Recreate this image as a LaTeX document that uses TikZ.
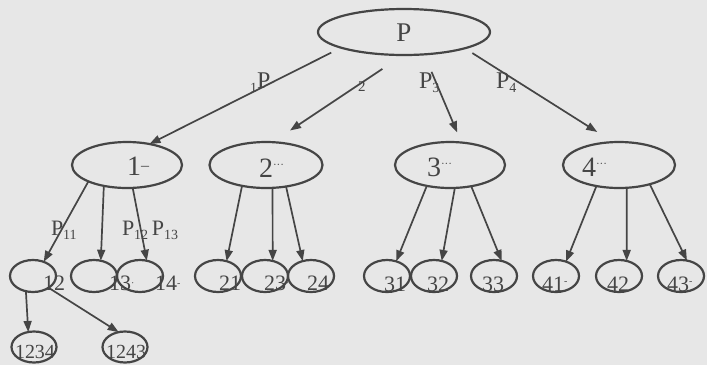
\documentclass[tikz,border=0pt]{standalone}
\usepackage{fontspec}
\setmainfont{Liberation Serif}
\usetikzlibrary{shapes.geometric,arrows.meta}
\definecolor{paper}{gray}{0.905}
\definecolor{ink}{gray}{0.27}
\newcommand{\sz}[1]{\fontsize{#1}{#1}\selectfont}
\newcommand{\sub}[1]{\raisebox{-4pt}{\sz{14}#1}}
\begin{document}
\begin{tikzpicture}[x=1pt,y=-1pt,
  oval/.style={ellipse,draw=ink,line width=2.2pt,inner sep=0pt,outer sep=0pt},
  big/.style={oval,minimum width=110pt,minimum height=46pt},
  small/.style={oval,minimum width=46pt,minimum height=32pt},
  leaf/.style={oval,minimum width=45pt,minimum height=31pt},
  lbl/.style={text=ink,inner sep=0pt,outer sep=0pt,anchor=base west},
  arr/.style={draw=ink,line width=1.7pt,-{Triangle[length=11pt,width=8pt]}}]
  % paper
  \fill[paper] (0,0) rectangle (707,365);
  \useasboundingbox (0,0) rectangle (707,365);

  % root
  \node[oval,minimum width=172pt,minimum height=46pt] (P) at (404,32) {};
  \node[text=ink,inner sep=0pt,font=\sz{27}] (tP) at (404,33) {P};

  % first level
  \node[big] (n1) at (127,165) {};
  \node[big,minimum width=113pt] (n2) at (266,165) {};
  \node[big] (n3) at (450,165) {};
  \node[big,minimum width=112pt] (n4) at (619,165) {};
  \node[lbl,font=\sz{28}] (t1) at (127,175) {1\raisebox{5pt}{\sz{16}--}};
  \node[lbl,font=\sz{28}] (t2) at (259,177) {2\raisebox{9pt}{\sz{11}···}};
  \node[lbl,font=\sz{28}] (t3) at (427,176) {3\raisebox{9pt}{\sz{11}···}};
  \node[lbl,font=\sz{28}] (t4) at (582,176) {4\raisebox{9pt}{\sz{11}···}};

  % second level
  \node[small] (e12) at (33,276) {};
  \node[small] (e13) at (94,276) {};
  \node[small] (e14) at (140,276) {};
  \node[small] (e21) at (218,276) {};
  \node[small] (e23) at (265,276) {};
  \node[small] (e24) at (311,276) {};
  \node[small] (e31) at (387,276) {};
  \node[small] (e32) at (434,276) {};
  \node[small] (e33) at (494,276) {};
  \node[small] (e41) at (556,276) {};
  \node[small] (e42) at (619,276) {};
  \node[small] (e43) at (681,276) {};
  \begin{scope}[every node/.style={lbl,font=\sz{22}}]
    \node (t12) at (43,290) {12};
    \node (t13) at (109,290) {13\raisebox{4pt}{\sz{10}·}};
    \node (t14) at (155,290) {14\raisebox{4pt}{\sz{10}-}};
    \node (t21) at (219,290) {21};
    \node (t23) at (264,290) {23\raisebox{4pt}{\sz{10}·}};
    \node (t24) at (307,290) {24};
    \node (t31) at (384,291) {31};
    \node (t32) at (427,291) {32};
    \node (t33) at (482,291) {33};
    \node (t41) at (542,291) {41\raisebox{7pt}{\sz{10}-}};
    \node (t42) at (607,291) {42};
    \node (t43) at (667,291) {43\raisebox{7pt}{\sz{10}-}};
  \end{scope}

  % third level
  \node[leaf] (e1234) at (34,347) {};
  \node[leaf] (e1243) at (125,347) {};
  \node[lbl,font=\sz{20}] (t1234) at (15,358) {1234};
  \node[lbl,font=\sz{20}] (t1243) at (106,358) {1243};

  % root branches
  \draw[arr,shorten <=11pt] (P.194.7) -- (n1.43.7);
  \draw[arr,shorten <=25pt,shorten >=21pt] (P.268.2) -- (n2.74.9);
  \draw[arr,shorten <=19pt,shorten >=11pt] (P.312.7) -- (n3.63.1);
  \draw[arr,shorten <=9pt,shorten >=19pt] (P.345.3) -- (n4.104.7);
  \node[lbl,font=\sz{24}] (l1) at (250,88) {\sub{1}P};
  \node[lbl,font=\sz{15}] (l2) at (358,91) {2};
  \node[lbl,font=\sz{24}] (l3) at (419,88) {P\sub{3}};
  \node[lbl,font=\sz{24}] (l4) at (496,88) {P\sub{4}};

  % second-level branches
  \draw[arr] (n1.203) -- (e12.53);
  \draw[arr] (n1.222.6) -- (e13.66);
  \draw[arr] (n1.284.6) -- (e14.66.4);
  \draw[arr] (n2.221.5) -- (e21.60.6);
  \draw[arr] (n2.286.9) -- (e23.63.4);
  \draw[arr] (n2.313.7) -- (e24.119.4);
  \draw[arr] (n3.222.6) -- (e31.58);
  \draw[arr] (n3.282.3) -- (e32.63.4);
  \draw[arr] (n3.315) -- (e33.63.4);
  \draw[arr] (n4.223.8) -- (e41.55.5);
  \draw[arr] (n4.289) -- (e42.63.4);
  \draw[arr] (n4.328.8) -- (e43.69.4);
  \node[lbl,font=\sz{22}] (l11) at (51,235) {P\sub{11}};
  \node[lbl,font=\sz{22}] (l1213) at (122,235) {P\sub{12}\,P\sub{13}};

  % third-level branches
  \draw[arr] (e12.245.6) -- (e1234.111.8);
  \draw[arr] (e12.323.7) -- (e1243.113.6);
\end{tikzpicture}
\end{document}
